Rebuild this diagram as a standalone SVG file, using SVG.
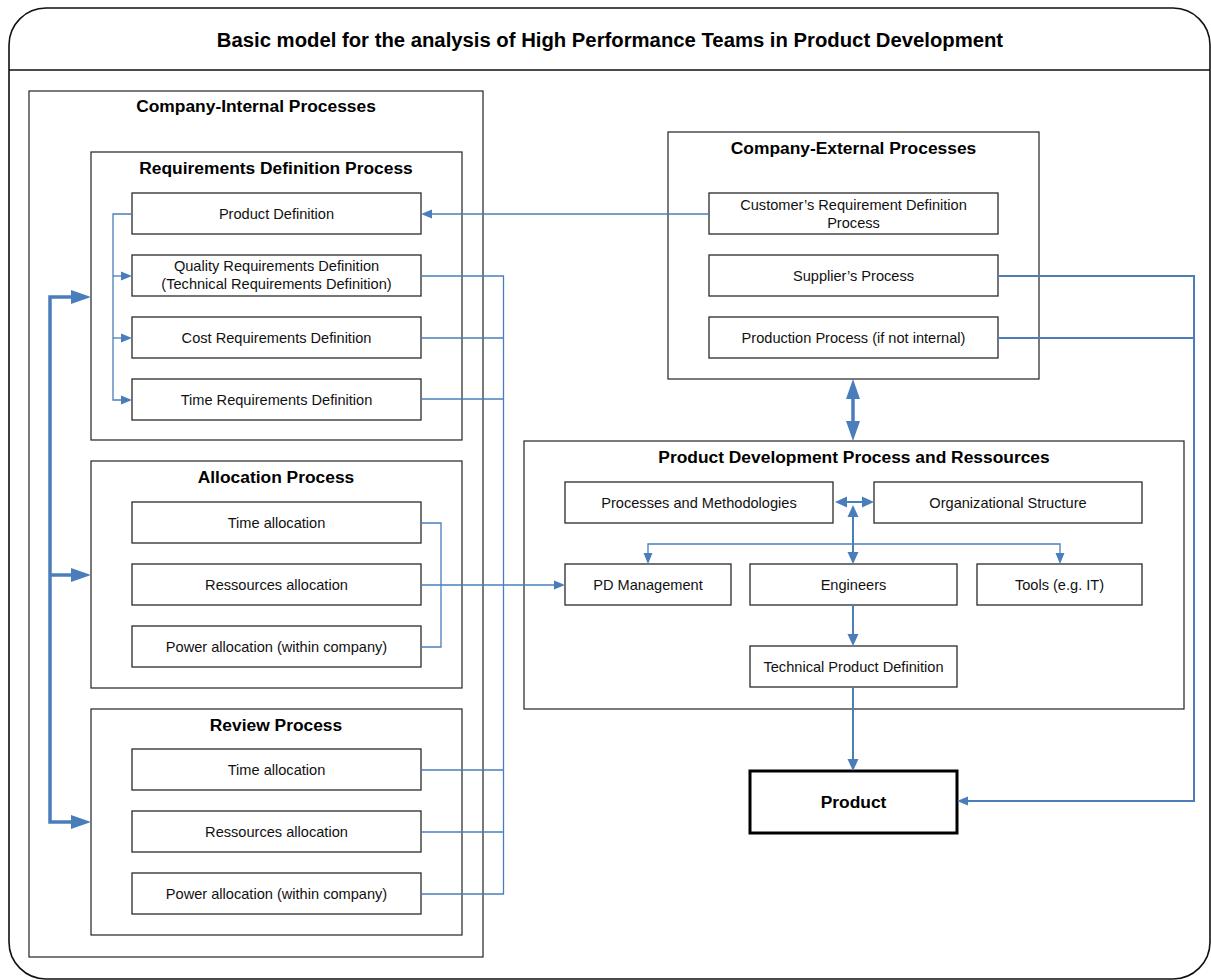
<svg xmlns="http://www.w3.org/2000/svg" width="1211" height="980" viewBox="0 0 1211 980">
  <style>
    .frame { fill: #ffffff; stroke: #111111; stroke-width: 1.6; }
    .group { fill: #ffffff; stroke: #222222; stroke-width: 1.2; }
    .box { fill: #ffffff; stroke: #2a2a2a; stroke-width: 1.3; }
    .prod { fill: #ffffff; stroke: #000000; stroke-width: 3; }
    .title { font-family: "Liberation Sans", Arial, sans-serif; font-size: 20.3px; font-weight: bold; fill: #000; text-anchor: middle; }
    .head { font-family: "Liberation Sans", Arial, sans-serif; font-size: 17.4px; font-weight: bold; fill: #000; text-anchor: middle; }
    .lbl { font-family: "Liberation Sans", Arial, sans-serif; font-size: 14.6px; fill: #111; text-anchor: middle; }
    .c-thin { fill: none; stroke: #4a7ebb; stroke-width: 1.3; }
    .c-mid { fill: none; stroke: #4a7ebb; stroke-width: 2; }
    .c-thick { fill: none; stroke: #4a7ebb; stroke-width: 3.5; stroke-linejoin: miter; }
    .ah { fill: #4a7ebb; }
  </style>
  <defs>
    <marker id="a-thin" markerUnits="userSpaceOnUse" viewBox="0 -5 11 10" refX="0" refY="0" markerWidth="11" markerHeight="10" orient="auto-start-reverse">
      <path class="ah" d="M0,-4.5 L11,0 L0,4.5 z"/>
    </marker>
    <marker id="a-mid" markerUnits="userSpaceOnUse" viewBox="0 -6 12 12" refX="0" refY="0" markerWidth="12" markerHeight="12" orient="auto-start-reverse">
      <path class="ah" d="M0,-5.5 L12,0 L0,5.5 z"/>
    </marker>
    <marker id="a-thick" markerUnits="userSpaceOnUse" viewBox="0 -7 20 14" refX="0" refY="0" markerWidth="20" markerHeight="14" orient="auto-start-reverse">
      <path class="ah" d="M0,-7 L20,0 L0,7 z"/>
    </marker>
  </defs>

  <rect width="1211" height="980" fill="#ffffff"/>

  <!-- outer frame with header band -->
  <g id="frame">
    <rect class="frame" x="9" y="8" width="1201" height="971" rx="37" ry="37"/>
    <line x1="9" y1="70" x2="1210" y2="70" stroke="#111" stroke-width="1.6"/>
    <text class="title" x="610" y="47">Basic model for the analysis of High Performance Teams in Product Development</text>
  </g>

  <!-- company-internal processes -->
  <g id="internal">
    <rect class="group" x="29" y="91" width="454" height="866"/>
    <text class="head" x="256" y="112">Company-Internal Processes</text>
  </g>

  <g id="req-process">
    <rect class="group" x="91" y="152" width="371" height="288"/>
    <text class="head" x="276" y="174">Requirements Definition Process</text>
  </g>
  <g id="product-definition">
    <rect class="box" x="132" y="193" width="289" height="41"/>
    <text class="lbl" x="276.5" y="219">Product Definition</text>
  </g>
  <g id="quality-req">
    <rect class="box" x="132" y="255" width="289" height="41"/>
    <text class="lbl" x="276.5" y="271">Quality Requirements Definition</text>
    <text class="lbl" x="276.5" y="288.5">(Technical Requirements Definition)</text>
  </g>
  <g id="cost-req">
    <rect class="box" x="132" y="317" width="289" height="41"/>
    <text class="lbl" x="276.5" y="343">Cost Requirements Definition</text>
  </g>
  <g id="time-req">
    <rect class="box" x="132" y="379" width="289" height="41"/>
    <text class="lbl" x="276.5" y="404.5">Time Requirements Definition</text>
  </g>

  <g id="alloc-process">
    <rect class="group" x="91" y="461" width="371" height="227"/>
    <text class="head" x="276" y="483">Allocation Process</text>
  </g>
  <g id="alloc-time">
    <rect class="box" x="132" y="502" width="289" height="41"/>
    <text class="lbl" x="276.5" y="528">Time allocation</text>
  </g>
  <g id="alloc-res">
    <rect class="box" x="132" y="564" width="289" height="41"/>
    <text class="lbl" x="276.5" y="590">Ressources allocation</text>
  </g>
  <g id="alloc-power">
    <rect class="box" x="132" y="626" width="289" height="41"/>
    <text class="lbl" x="276.5" y="652">Power allocation (within company)</text>
  </g>

  <g id="review-process">
    <rect class="group" x="91" y="709" width="371" height="226"/>
    <text class="head" x="276" y="731">Review Process</text>
  </g>
  <g id="review-time">
    <rect class="box" x="132" y="749" width="289" height="41"/>
    <text class="lbl" x="276.5" y="775">Time allocation</text>
  </g>
  <g id="review-res">
    <rect class="box" x="132" y="811" width="289" height="41"/>
    <text class="lbl" x="276.5" y="837">Ressources allocation</text>
  </g>
  <g id="review-power">
    <rect class="box" x="132" y="873" width="289" height="41"/>
    <text class="lbl" x="276.5" y="899">Power allocation (within company)</text>
  </g>

  <!-- company-external processes -->
  <g id="external">
    <rect class="group" x="668" y="132" width="371" height="247"/>
    <text class="head" x="853.5" y="154">Company-External Processes</text>
  </g>
  <g id="customer-req">
    <rect class="box" x="709" y="193" width="289" height="41"/>
    <text class="lbl" x="853.5" y="210">Customer’s Requirement Definition</text>
    <text class="lbl" x="853.5" y="227.5">Process</text>
  </g>
  <g id="supplier">
    <rect class="box" x="709" y="255" width="289" height="41"/>
    <text class="lbl" x="853.5" y="281">Supplier’s Process</text>
  </g>
  <g id="production">
    <rect class="box" x="709" y="317" width="289" height="41"/>
    <text class="lbl" x="853.5" y="343">Production Process (if not internal)</text>
  </g>

  <!-- product development process and resources -->
  <g id="pd-process">
    <rect class="group" x="524" y="441" width="660" height="268"/>
    <text class="head" x="854" y="463">Product Development Process and Ressources</text>
  </g>
  <g id="methods">
    <rect class="box" x="565" y="482" width="268" height="41"/>
    <text class="lbl" x="699" y="508">Processes and Methodologies</text>
  </g>
  <g id="org-structure">
    <rect class="box" x="874" y="482" width="268" height="41"/>
    <text class="lbl" x="1008" y="508">Organizational Structure</text>
  </g>
  <g id="pd-management">
    <rect class="box" x="565" y="564" width="166" height="41"/>
    <text class="lbl" x="648" y="590">PD Management</text>
  </g>
  <g id="engineers">
    <rect class="box" x="750" y="564" width="207" height="41"/>
    <text class="lbl" x="853.5" y="590">Engineers</text>
  </g>
  <g id="tools">
    <rect class="box" x="977" y="564" width="165" height="41"/>
    <text class="lbl" x="1059.5" y="590">Tools (e.g. IT)</text>
  </g>
  <g id="tech-product-def">
    <rect class="box" x="750" y="646" width="207" height="41"/>
    <text class="lbl" x="853.5" y="672">Technical Product Definition</text>
  </g>

  <g id="product">
    <rect class="prod" x="750" y="771" width="207" height="62"/>
    <text class="head" x="853.5" y="808">Product</text>
  </g>

  <!-- connectors -->
  <g id="connectors">
    <!-- customer requirements feed the product definition -->
    <path class="c-thin" d="M709,214 H432" marker-end="url(#a-thin)"/>
    <!-- product definition fans out to the requirement definitions -->
    <path class="c-thin" d="M132,214 H113 V400 H121" marker-end="url(#a-thin)"/>
    <path class="c-thin" d="M113,276 H121" marker-end="url(#a-thin)"/>
    <path class="c-thin" d="M113,338 H121" marker-end="url(#a-thin)"/>
    <!-- requirements and review bus -->
    <path class="c-thin" d="M421,276 H503.5 V894 H421"/>
    <path class="c-thin" d="M421,338 H503.5"/>
    <path class="c-thin" d="M421,399 H503.5"/>
    <path class="c-thin" d="M421,770 H503.5"/>
    <path class="c-thin" d="M421,832 H503.5"/>
    <!-- allocation bracket and link to PD management -->
    <path class="c-thin" d="M421,523 H441 V647 H421"/>
    <path class="c-thin" d="M421,585 H554" marker-end="url(#a-thin)"/>
    <!-- internal process cycle -->
    <path class="c-thick" d="M71,297 H50 V822 H71" marker-start="url(#a-thick)" marker-end="url(#a-thick)"/>
    <path class="c-thick" d="M50,575 H71" marker-end="url(#a-thick)"/>
    <!-- external supply into product -->
    <path class="c-mid" d="M998,276 H1194 V801 H968" marker-end="url(#a-thin)"/>
    <path class="c-mid" d="M998,338 H1194"/>
    <!-- external processes and product development -->
    <path class="c-thick" d="M853,399 V421" marker-start="url(#a-thick)" marker-end="url(#a-thick)"/>
    <!-- inside product development -->
    <path class="c-mid" d="M847,502 H862" marker-start="url(#a-mid)" marker-end="url(#a-mid)"/>
    <path class="c-mid" d="M853,517 V552" marker-start="url(#a-mid)" marker-end="url(#a-mid)"/>
    <path class="c-thin" d="M648,553 V544 H1060 V553" marker-start="url(#a-thin)" marker-end="url(#a-thin)"/>
    <path class="c-mid" d="M853,605 V634" marker-end="url(#a-mid)"/>
    <path class="c-mid" d="M853,687 V759" marker-end="url(#a-mid)"/>
  </g>
</svg>
